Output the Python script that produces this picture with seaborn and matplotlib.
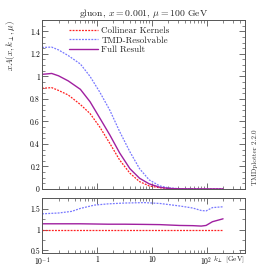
import numpy as np
import pandas as pd
import matplotlib
matplotlib.use("Agg")
import matplotlib.pyplot as plt
import matplotlib.ticker as mticker
import seaborn as sns

# top panel: xA(x, kT, mu) for gluon
kt = [0.1, 0.15, 0.2, 0.3, 0.5, 0.75, 1.13, 1.72, 2.6, 4, 6, 9, 14, 20, 30, 50, 100, 200]
collinear = [0.894, 0.900, 0.875, 0.835, 0.750, 0.670, 0.550, 0.405, 0.257, 0.140, 0.065, 0.027,
             0.010, 0.004, 0.001, 0.0003, 0.0, 0.0]
tmd_res = [1.257, 1.260, 1.235, 1.185, 1.110, 1.000, 0.860, 0.700, 0.510, 0.330, 0.180, 0.080,
           0.027, 0.010, 0.003, 0.001, 0.0, 0.0]
full = [1.018, 1.026, 1.005, 0.960, 0.885, 0.775, 0.630, 0.480, 0.320, 0.180, 0.095, 0.045,
        0.015, 0.005, 0.0015, 0.0004, 0.0, 0.0]

# bottom panel: ratios to collinear kernels
kt_r = [0.1, 0.2, 0.35, 0.5, 0.9, 1.6, 3.2, 7.4, 14, 32, 56, 80, 98, 128, 200]
ratio_coll = [1.0] * len(kt_r)
ratio_tmd = [1.38, 1.40, 1.44, 1.51, 1.59, 1.62, 1.64, 1.65, 1.63, 1.57, 1.52, 1.46, 1.45, 1.53, 1.55]
ratio_full = [1.14, 1.14, 1.14, 1.14, 1.135, 1.13, 1.13, 1.125, 1.12, 1.10, 1.095, 1.085, 1.10, 1.19, 1.26]

sns.set_theme(style="ticks")
plt.rcParams["font.family"] = ["cmr10", "DejaVu Serif"]
plt.rcParams["mathtext.fontset"] = "cm"
plt.rcParams["axes.formatter.use_mathtext"] = True
plt.rcParams["axes.unicode_minus"] = False

red = "#ff2020"
blue = "#7878ff"
purple = "#a020a0"
gray = "#555555"

fig = plt.figure(figsize=(2.73, 2.68), dpi=100)
ax = fig.add_axes([0.154, 0.295, 0.743, 0.630])
ax2 = fig.add_axes([0.154, 0.055, 0.743, 0.206])

top = pd.DataFrame({"kt": kt, "coll": collinear, "tmd": tmd_res, "full": full})
bot = pd.DataFrame({"kt": kt_r, "coll": ratio_coll, "tmd": ratio_tmd, "full": ratio_full})

sns.lineplot(data=top, x="kt", y="coll", ax=ax, color=red, lw=0.9, linestyle=(0, (1.5, 1)),
             label="Collinear Kernels")
sns.lineplot(data=top, x="kt", y="tmd", ax=ax, color=blue, lw=0.9, linestyle=(0, (1.5, 1)),
             label="TMD-Resolvable")
sns.lineplot(data=top, x="kt", y="full", ax=ax, color=purple, lw=1.0, label="Full Result")

sns.lineplot(data=bot, x="kt", y="coll", ax=ax2, color=red, lw=0.9, linestyle=(0, (1.5, 1)))
sns.lineplot(data=bot, x="kt", y="tmd", ax=ax2, color=blue, lw=0.9, linestyle=(0, (1.5, 1)))
sns.lineplot(data=bot, x="kt", y="full", ax=ax2, color=purple, lw=1.0)

for a in (ax, ax2):
    a.set_xscale("log")
    a.set_xlim(0.1, 500)
    a.set_xlabel("")
    a.set_ylabel("")
    a.tick_params(which="both", direction="in", top=True, right=True, colors=gray,
                  labelcolor="black", labelsize=5.5, pad=1.5)
    a.tick_params(which="major", length=4, width=0.6)
    a.tick_params(which="minor", length=2.2, width=0.5)
    for s in a.spines.values():
        s.set_color(gray)
        s.set_linewidth(0.7)
    a.xaxis.set_major_locator(mticker.FixedLocator([0.1, 1, 10, 100]))
    a.xaxis.set_minor_locator(mticker.LogLocator(base=10, subs=np.arange(2, 10)))

fmt = mticker.FuncFormatter(lambda v, p: "%g" % v)
ax.set_ylim(0, 1.5)
ax.yaxis.set_major_locator(mticker.MultipleLocator(0.2))
ax.yaxis.set_minor_locator(mticker.MultipleLocator(0.05))
ax.yaxis.set_major_formatter(fmt)
ax.set_xticklabels([])

ax2.set_ylim(0.43, 1.76)
ax2.yaxis.set_major_locator(mticker.MultipleLocator(0.5))
ax2.yaxis.set_minor_locator(mticker.MultipleLocator(0.25))
ax2.yaxis.set_major_formatter(fmt)
ax2.set_xticklabels([r"$10^{-1}$", "1", "10", r"$10^{2}$"])
ax2.text(132, -0.035, r"$k_\perp$ [GeV]", transform=ax2.get_xaxis_transform(),
         ha="left", va="top", fontsize=5.3)

ax.set_title(r"gluon, $x = 0.001$, $\mu = 100$ GeV", fontsize=7, pad=3)
ax.set_ylabel(r"$xA(x, k_\perp, \mu)$", fontsize=6.5)
ax.yaxis.set_label_coords(-0.125, 0.85)

leg = ax.legend(loc="upper left", bbox_to_anchor=(0.1, 1.0), frameon=False, fontsize=6.5,
                handlelength=3.2, handletextpad=0.4, labelspacing=0.15, borderpad=0.2)

fig.text(0.934, 0.415, "TMDplotter 2.2.0", rotation=90, ha="center", va="center",
         fontsize=5.2, color="#333333")

fig.savefig("out.png", dpi=100)
